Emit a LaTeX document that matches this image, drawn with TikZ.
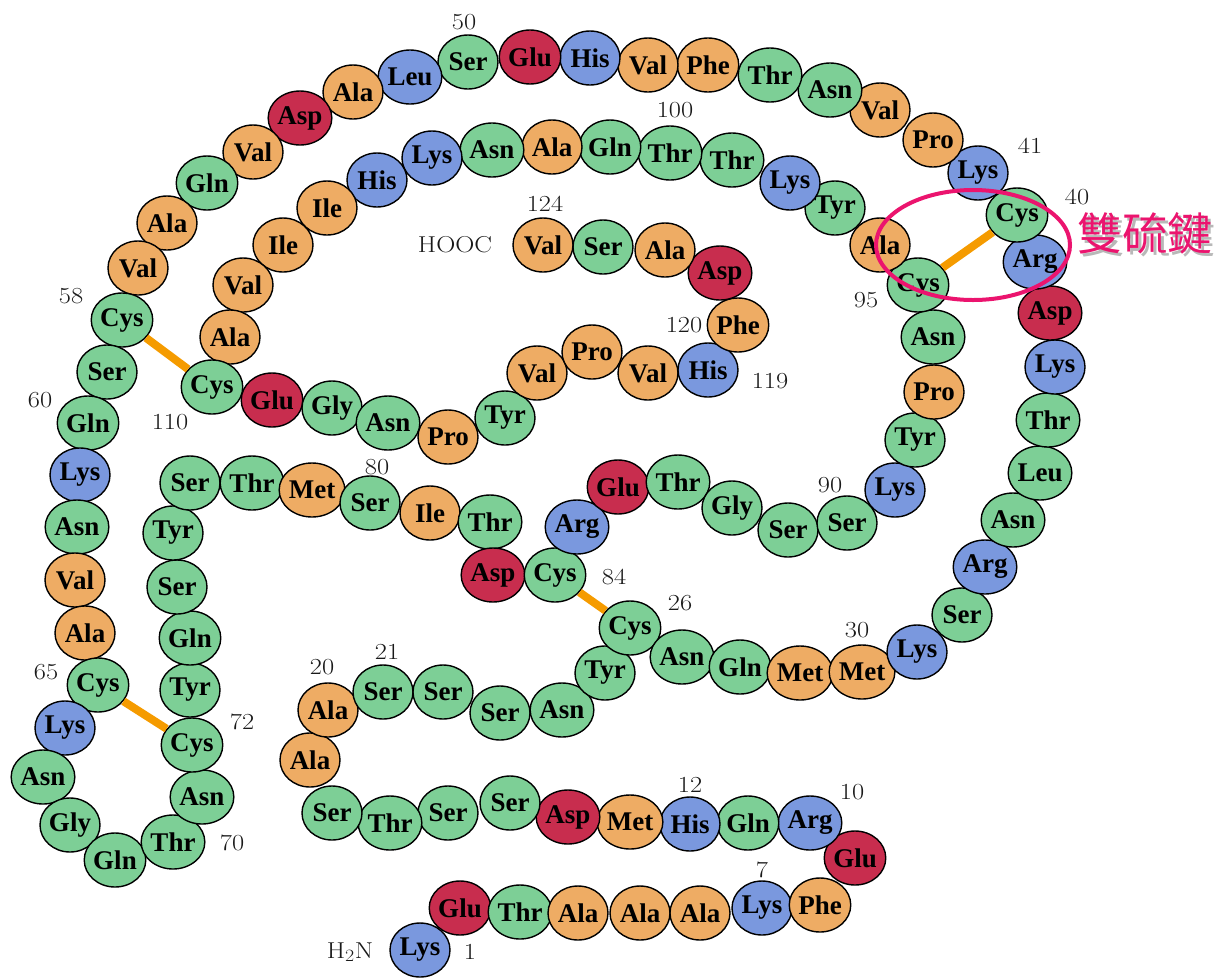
\documentclass[tikz,border=0pt]{standalone}
\usepackage{fontspec}
\usepackage{graphicx}
\usetikzlibrary{shapes.geometric}
\newfontfamily\resfont{Liberation Serif}
\newfontfamily\cjkfont{Noto Sans CJK TC}
\definecolor{colG}{RGB}{125,207,150}
\definecolor{colO}{RGB}{238,172,100}
\definecolor{colB}{RGB}{122,152,222}
\definecolor{colR}{RGB}{200,45,78}
\definecolor{bondcol}{RGB}{245,155,0}
\definecolor{ringcol}{RGB}{235,20,110}
\newcommand\lbltxt[1]{\scalebox{1.15}[1]{#1}}
\begin{document}
\begin{tikzpicture}[x=1pt,y=-1pt,
  res/.style={ellipse,draw=black,line width=1.4pt,minimum width=60pt,minimum height=54pt,inner sep=0pt,
    font={\resfont\bfseries\fontsize{27pt}{27pt}\selectfont}},
  bond/.style={draw=bondcol,line width=8pt},
  lbl/.style={inner sep=0pt,font={\fontsize{23pt}{23pt}\selectfont},text=black!90}]
\useasboundingbox (0,0) rectangle (1223,978);
\foreach \n/\x/\y/\t/\c in {
1/420/950/Lys/B,2/460/908/Glu/R,3/520/912/Thr/G,4/578/913/Ala/O,5/640/913/Ala/O,
6/700/913/Ala/O,7/762/908/Lys/B,8/820/905/Phe/O,9/855/858/Glu/R,10/810/823/Arg/B,
11/748/823/Gln/G,12/690/824/His/B,13/630/822/Met/O,14/568/817/Asp/R,15/510/803/Ser/G,
16/448/813/Ser/G,17/390/823/Thr/G,18/332/813/Ser/G,19/310/760/Ala/O,20/328/710/Ala/O,
21/383/692/Ser/G,22/443/692/Ser/G,23/500/713/Ser/G,24/562/710/Asn/G,25/605/673/Tyr/G,
26/630/628/Cys/G,27/682/657/Asn/G,28/740/667/Gln/G,29/800/673/Met/O,30/862/672/Met/O,
31/917/652/Lys/B,32/962/615/Ser/G,33/985/567/Arg/B,34/1013/520/Asn/G,35/1040/473/Leu/G,
36/1048/420/Thr/G,37/1055/367/Lys/B,38/1050/313/Asp/R,39/1035/262/Arg/B,40/1017/215/Cys/G,
41/978/173/Lys/B,42/933/140/Pro/O,43/880/110/Val/O,44/830/90/Asn/G,45/770/75/Thr/G,
46/708/65/Phe/O,47/648/65/Val/O,48/590/58/His/B,49/530/57/Glu/R,50/468/62/Ser/G,
51/410/77/Leu/B,52/353/92/Ala/O,53/300/118/Asp/R,54/253/152/Val/O,55/207/183/Gln/G,
56/167/223/Ala/O,57/138/268/Val/O,58/122/320/Cys/G,59/107/372/Ser/G,60/88/423/Gln/G,
61/80/475/Lys/B,62/77/527/Asn/G,63/75/580/Val/O,64/85/633/Ala/O,65/98/685/Cys/G,
66/65/728/Lys/B,67/43/777/Asn/G,68/70/825/Gly/G,69/115/860/Gln/G,70/173/842/Thr/G,
71/202/797/Asn/G,72/192/745/Cys/G,73/190/690/Tyr/G,74/190/638/Gln/G,75/177/587/Ser/G,
76/173/533/Tyr/G,77/190/483/Ser/G,78/252/483/Thr/G,79/312/490/Met/O,80/370/503/Ser/G,
81/430/513/Ile/O,82/490/522/Thr/G,83/493/575/Asp/R,84/555/575/Cys/G,85/577/527/Arg/B,
86/618/487/Glu/R,87/678/482/Thr/G,88/732/508/Gly/G,89/788/530/Ser/G,90/847/523/Ser/G,
91/895/490/Lys/B,92/915/440/Tyr/G,93/934/392/Pro/O,94/933/337/Asn/G,95/918/285/Cys/G,
96/880/245/Ala/O,97/835/208/Tyr/G,98/790/183/Lys/B,99/732/160/Thr/G,100/670/153/Thr/G,
101/610/147/Gln/G,102/552/147/Ala/O,103/492/150/Asn/G,104/432/158/Lys/B,105/377/180/His/B,
106/327/208/Ile/O,107/283/245/Ile/O,108/243/285/Val/O,109/230/337/Ala/O,110/212/387/Cys/G,
111/272/400/Glu/R,112/332/408/Gly/G,113/388/423/Asn/G,114/448/437/Pro/O,115/505/418/Tyr/G,
116/537/373/Val/O,117/592/352/Pro/O,118/648/373/Val/O,119/708/370/His/B,120/738/325/Phe/O,
121/720/273/Asp/R,122/665/250/Ala/O,123/603/247/Ser/G,124/543/245/Val/O}
  \node[res,fill=col\c] (r\n) at (\x,\y) {\t};
% disulfide bonds
\draw[bond] (r58) -- (r110);
\draw[bond] (r65) -- (r72);
\draw[bond] (r84) -- (r26);
\draw[bond] (r40) -- (r95);
% labels
\node[lbl] (l50) at (464,22) {\lbltxt{50}};
\node[lbl] (l100) at (675,110) {\lbltxt{100}};
\node[lbl] (l124) at (545,204) {\lbltxt{124}};
\node[lbl] (lhooc) at (455,245) {\lbltxt{HOOC}};
\node[lbl] (l120) at (684,325) {\lbltxt{120}};
\node[lbl] (l119) at (770,381) {\lbltxt{119}};
\node[lbl] (l41) at (1030,146) {\lbltxt{41}};
\node[lbl] (l40) at (1077,197) {\lbltxt{40}};
\node[lbl] (l95) at (866,300) {\lbltxt{95}};
\node[lbl] (l58) at (71,296) {\lbltxt{58}};
\node[lbl] (l60) at (40,400) {\lbltxt{60}};
\node[lbl] (l110) at (170,422) {\lbltxt{110}};
\node[lbl] (l80) at (377,467) {\lbltxt{80}};
\node[lbl] (l84) at (614,577) {\lbltxt{84}};
\node[lbl] (l26) at (680,603) {\lbltxt{26}};
\node[lbl] (l90) at (830,485) {\lbltxt{90}};
\node[lbl] (l30) at (857,630) {\lbltxt{30}};
\node[lbl] (l65) at (46,672) {\lbltxt{65}};
\node[lbl] (l72) at (242,722) {\lbltxt{72}};
\node[lbl] (l70) at (232,843) {\lbltxt{70}};
\node[lbl] (l20) at (322,667) {\lbltxt{20}};
\node[lbl] (l21) at (387,652) {\lbltxt{21}};
\node[lbl] (l12) at (690,785) {\lbltxt{12}};
\node[lbl] (l10) at (852,792) {\lbltxt{10}};
\node[lbl] (l7) at (762,870) {\lbltxt{7}};
\node[lbl] (l1) at (470,952) {\lbltxt{1}};
\node[lbl] (lh2n) at (350,952) {\lbltxt{H$_2$N}};
% highlight ring and caption
\node[ellipse,draw=ringcol,line width=4pt,minimum width=194pt,minimum height=110pt,inner sep=0pt] (ring) at (973,245) {};
\node[inner sep=0pt,text=ringcol,font={\cjkfont\fontsize{45pt}{45pt}\selectfont}] (cap) at (1145,235)
  {\makebox[0pt][l]{\hspace{3pt}\raisebox{-3pt}{\textcolor{black!28}{雙硫鍵}}}雙硫鍵};
\end{tikzpicture}
\end{document}
